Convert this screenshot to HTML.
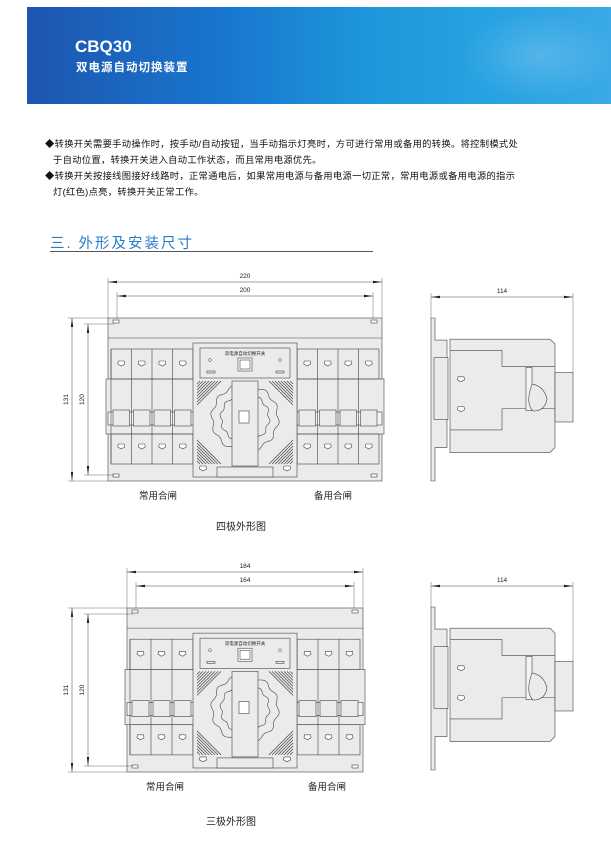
<!DOCTYPE html>
<html><head><meta charset="utf-8"><style>
body{margin:0;width:611px;height:846px;background:#fff;overflow:hidden;font-family:"Liberation Sans","Noto Sans CJK SC",sans-serif}
.t{position:absolute;font-size:9.3px;color:#111;white-space:nowrap;letter-spacing:0.3px}
</style></head><body>
<div style="position:absolute;left:27px;top:7px;width:584px;height:97px;background:linear-gradient(90deg,#1d55b0 0%,#1878cf 35%,#1f98dc 60%,#27a2e2 80%,#3aa9e6 100%)"></div>
<div style="position:absolute;left:450px;top:7px;width:161px;height:97px;background:radial-gradient(ellipse at 55% 50%,rgba(255,255,255,0.18),rgba(255,255,255,0) 65%)"></div>
<div style="position:absolute;left:75px;top:37px;color:#fff;font-weight:bold;font-size:17px">CBQ30</div>
<div style="position:absolute;left:76px;top:59px;color:#fff;font-weight:bold;font-size:11.5px;letter-spacing:1px">双电源自动切换装置</div>
<div class="t" style="left:45px;top:136px">◆转换开关需要手动操作时，按手动/自动按钮，当手动指示灯亮时，方可进行常用或备用的转换。将控制模式处</div>
<div class="t" style="left:53px;top:152px">于自动位置，转换开关进入自动工作状态，而且常用电源优先。</div>
<div class="t" style="left:45px;top:168px">◆转换开关按接线图接好线路时，正常通电后，如果常用电源与备用电源一切正常，常用电源或备用电源的指示</div>
<div class="t" style="left:53px;top:184px">灯(红色)点亮，转换开关正常工作。</div>
<div style="position:absolute;left:50px;top:232px;color:#2a7cc8;font-size:14.5px;letter-spacing:2px">三. 外形及安装尺寸</div>
<div style="position:absolute;left:50px;top:251px;width:323px;height:1px;background:#555"></div>
<svg id="s" width="611" height="846" style="position:absolute;left:0;top:0"></svg>
<script>
var s=document.getElementById('s'),h='';
function L(a,b,c,d,w,col){h+='<line x1="'+a+'" y1="'+b+'" x2="'+c+'" y2="'+d+'" stroke="'+(col||'#444')+'" stroke-width="'+(w||0.6)+'"/>';}
function R(x,y,w,hh,f){h+='<rect x="'+x+'" y="'+y+'" width="'+w+'" height="'+hh+'" fill="'+(f||'#ebebeb')+'" stroke="#444" stroke-width="0.6"/>';}
function T(x,y,t,sz,extra){h+='<text x="'+x+'" y="'+y+'" font-size="'+sz+'" text-anchor="middle" fill="#222" font-family="Liberation Sans,Noto Sans CJK SC,sans-serif" '+(extra||'')+'>'+t+'</text>';}
function arrH(x1,x2,y,lab){L(x1,y,x2,y,0.5);h+='<polygon points="'+x1+','+y+' '+(x1+9)+','+(y-1.2)+' '+(x1+9)+','+(y+1.2)+'" fill="#222"/><polygon points="'+x2+','+y+' '+(x2-9)+','+(y-1.2)+' '+(x2-9)+','+(y+1.2)+'" fill="#222"/>';T((x1+x2)/2,y-4,lab,6.5);}
function arrV(x,y1,y2,lab){L(x,y1,x,y2,0.5);h+='<polygon points="'+x+','+y1+' '+(x-1.2)+','+(y1+9)+' '+(x+1.2)+','+(y1+9)+'" fill="#222"/><polygon points="'+x+','+y2+' '+(x-1.2)+','+(y2-9)+' '+(x+1.2)+','+(y2-9)+'" fill="#222"/>';var cy=(y1+y2)/2;T(x-4,cy,lab,6.5,'transform="rotate(-90 '+(x-4)+' '+cy+')"');}
function tri(x,y){h+='<polygon points="'+(x-3)+','+(y-2)+' '+(x+3)+','+(y-2)+' '+(x+3.5)+','+(y+1)+' '+x+','+(y+3)+' '+(x-3.5)+','+(y+1)+'" fill="#fff" stroke="#444" stroke-width="0.6"/>';}
function wavy(cx,cy,r,amp,fill){var p='';for(var i=0;i<=120;i++){var a=i/120*Math.PI*2,rr=r+amp*Math.sin(a*12);p+=(i?'L':'M')+(cx+rr*Math.cos(a)).toFixed(1)+' '+(cy+rr*Math.sin(a)).toFixed(1);}h+='<path d="'+p+'Z" fill="'+fill+'" stroke="#444" stroke-width="0.6"/>';}
function front(x0,x1,y0,y1,n,lab,sc){
 var H=y1-y0,f=function(v){return y0+v*H/163;};
 R(x0,y0,x1-x0,H);
 L(x0,f(20),x1,f(20));
 R(x0+5,f(2),6,3,'#fff');R(x1-11,f(2),6,3,'#fff');R(x0+5,y1-7,6,3,'#fff');R(x1-11,y1-7,6,3,'#fff');
 arrH(x0,x1,y0-36,sc[0]);L(x0,y0,x0,y0-40,0.4);L(x1,y0,x1,y0-40,0.4);
 arrH(x0+9,x1-9,y0-22,sc[1]);L(x0+9,y0,x0+9,y0-26,0.4);L(x1-9,y0,x1-9,y0-26,0.4);
 arrV(72,y0,y1,'131');arrV(88,y0+6,y1-6,'120');L(68,y0,x0,y0,0.4);L(84,y0+6,x0+6,y0+6,0.4);L(68,y1,x0,y1,0.4);L(84,y1-6,x0+6,y1-6,0.4);
 var cx0=193,cx1=297;
 [[x0+3,cx0],[cx1,x1-3]].forEach(function(p){
  var w=(p[1]-p[0])/n;
  R(p[0],f(31),p[1]-p[0],f(146)-f(31));
  R(p[0]-5,f(61),p[1]-p[0]+10,f(116)-f(61));
  R(p[0]-3,f(94),p[1]-p[0]+6,f(107)-f(94),'#f4f4f4');
  for(var i=0;i<n;i++){var a=p[0]+i*w;L(a,f(31),a,f(146));R(a+2,f(92),w-4,f(108)-f(92),'#ebebeb');tri(a+w/2,f(45));tri(a+w/2,f(128));}
  L(p[0],f(61),p[1],f(61));L(p[0],f(116),p[1],f(116));
 });
 R(cx0,f(25),cx1-cx0,f(159)-f(25));
 R(cx0+7,f(30),cx1-cx0-14,f(60)-f(30));
 T(245,f(36)+1,'双电源自动切换开关',4.5);
 R(238,f(40),14,13,'#fff');R(240,f(42),10,9,'#fff');
 h+='<circle cx="210" cy="'+f(42)+'" r="1.5" fill="none" stroke="#444" stroke-width="0.5"/><circle cx="280" cy="'+f(42)+'" r="1.5" fill="none" stroke="#444" stroke-width="0.5"/>';
 R(207,f(53),8,2);R(276,f(53),8,2);
 for(var k=0;k<9;k++){L(cx0+4,f(63)+k*3,cx0+4+k*3,f(63),0.7);L(cx1-4,f(63)+k*3,cx1-4-k*3,f(63),0.7);L(cx0+4,f(146)-k*3,cx0+4+k*3,f(146),0.7);L(cx1-4,f(146)-k*3,cx1-4-k*3,f(146),0.7);}
 var ky=f(100),kc=245;
 wavy(kc,ky,33,1.5,'#ebebeb');
 wavy(kc,ky,24,1.2,'#ebebeb');
 R(kc-13,f(63),26,f(148)-f(63));
 R(kc-6,f(93),10,12,'#fff');
 R(217,f(149),56,f(159)-f(149));
 tri(cx0+10,f(150));tri(cx1-10,f(150));
 T(lab[2],y1+18,lab[0],9.5);T(lab[3],y1+18,lab[1],9.5);
}
function side(y0,y1){
 var H=y1-y0,f=function(v){return y0+v*H/185;};
 h+='<path d="M431 '+y0+' h4 v'+(f(25)-y0)+' h12 v'+(f(147)-f(25))+' h-12 v'+(y1-f(147))+' h-4 z" fill="#ebebeb" stroke="#444" stroke-width="0.6"/>';
 R(434,f(45),14,f(115)-f(45));
 h+='<path d="M450 '+f(24)+' H550 l5 5 V'+f(147)+' l-5 5 H450 z" fill="#ebebeb" stroke="#444" stroke-width="0.6"/>';
 h+='<path d="M450 '+f(37)+' H502 V'+f(55)+' H555 M555 '+f(103)+' H502 V'+f(127)+' H450" fill="none" stroke="#444" stroke-width="0.6"/>';
 R(555,f(62),18,f(118)-f(62));
 R(526,f(56),6,f(105)-f(56),'#f4f4f4');
 tri(461,f(69));tri(461,f(103));
 h+='<path d="M532 '+f(75)+' q12 2 15 15 q-2 12 -14 12 q-8 -8 -1 -27z" fill="#ebebeb" stroke="#444" stroke-width="0.6"/>';
 arrH(431,573,y0-21,'114');L(573,f(62),573,y0-25,0.4);L(431,y0,431,y0-25,0.4);
}
front(108,382,318,481,4,['常用合闸','备用合闸',158,333],['220','200']);
side(318,481);
front(127,363,608,772,3,['常用合闸','备用合闸',165,327],['184','164']);
side(607,770);
T(241,530,'四极外形图',10);
T(231,825,'三极外形图',10);
s.innerHTML=h;
</script>
</body></html>
